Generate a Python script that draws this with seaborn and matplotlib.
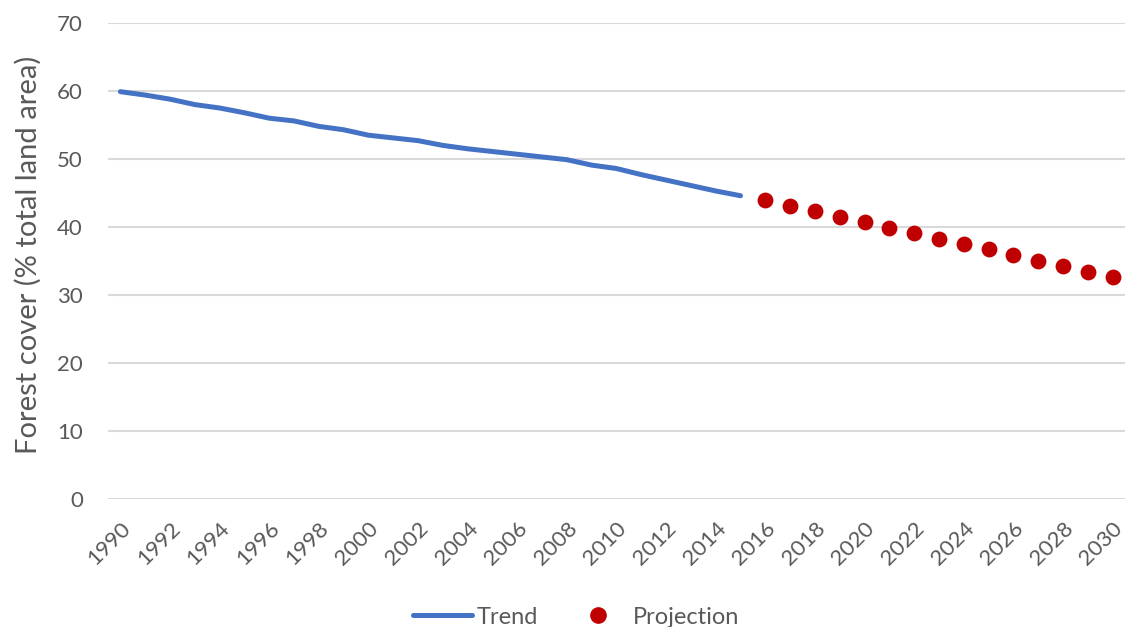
import seaborn as sns
import numpy as np
import pandas as pd
from matplotlib import pyplot as plt
from matplotlib.lines import Line2D

# Data
trend_years = list(range(1990, 2016))
trend_values = [59.9, 59.4, 58.8, 58.0, 57.5, 56.8, 56.0, 55.6, 54.8, 54.3,
                53.5, 53.1, 52.7, 52.0, 51.5, 51.1, 50.7, 50.3, 49.9, 49.1,
                48.6, 47.7, 46.9, 46.1, 45.3, 44.6]
proj_years = list(range(2016, 2031))
proj_values = [44.0, 43.1, 42.4, 41.5, 40.7, 39.9, 39.1, 38.3, 37.5, 36.7,
               35.9, 35.0, 34.3, 33.4, 32.6]
x_ticks = list(range(1990, 2031, 2))
y_ticks = [0, 10, 20, 30, 40, 50, 60, 70]

trend = pd.DataFrame({"year": trend_years, "value": trend_values})
proj = pd.DataFrame({"year": proj_years, "value": proj_values})

sns.set_theme(style="white")
plt.rcParams['font.family'] = ['Lato', 'DejaVu Sans']

text_color = "#595959"
blue = "#4472C4"
red = "#C00000"

fig = plt.figure(figsize=(11.25, 6.27), dpi=100)
ax = fig.add_axes([108/1125, 1 - 499/627, 1 - 108/1125, (499 - 23)/627])

sns.lineplot(data=trend, x="year", y="value", color=blue, linewidth=3.6, ax=ax,
             solid_capstyle="round")
sns.scatterplot(data=proj, x="year", y="value", color=red, s=130, linewidth=0, ax=ax)

ax.set_xlim(1989.5, 2030.5)
ax.set_ylim(0, 70)
ax.set_xticks(x_ticks)
ax.set_xticklabels([str(y) for y in x_ticks], rotation=45, ha="right",
                   rotation_mode="anchor", fontsize=16, color=text_color)
ax.set_yticks(y_ticks)
ax.set_yticklabels([str(v) for v in y_ticks], fontsize=16, color=text_color)
ax.tick_params(axis="x", length=0, pad=14)
ax.tick_params(axis="y", length=0, pad=18)

ax.grid(axis="y", color="#D9D9D9", linewidth=1.5)
ax.grid(axis="x", visible=False)
ax.set_axisbelow(True)
for s in ax.spines.values():
    s.set_visible(False)

ax.set_xlabel("")
ax.set_ylabel("Forest cover (% total land area)", fontsize=21, color=text_color)
ax.yaxis.set_label_coords(-66/1017, 0.513)

handles = [Line2D([0], [0], color=blue, linewidth=3.6, solid_capstyle="round"),
           Line2D([0], [0], color=red, marker="o", linestyle="", markersize=11)]
fig.legend(handles, ["Trend", "Projection"], loc="center",
           bbox_to_anchor=(576/1125, 1 - 617/627), ncol=2, frameon=False,
           fontsize=17, labelcolor=text_color, handlelength=2.5,
           columnspacing=1.3, handletextpad=0.2)

fig.savefig("out.png", dpi=100)
